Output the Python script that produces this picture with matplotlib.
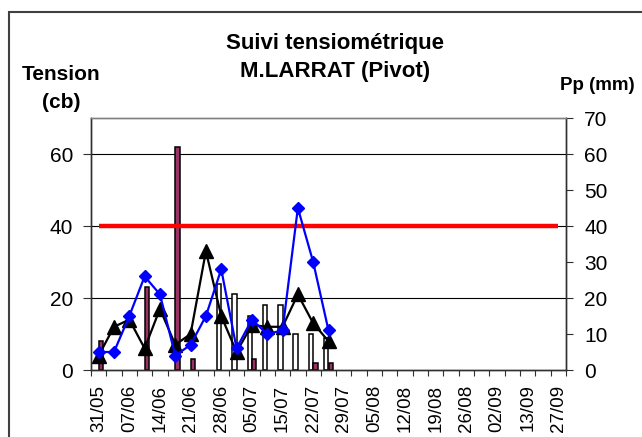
import matplotlib
matplotlib.use("Agg")
import matplotlib.pyplot as plt
import numpy as np
from matplotlib.patches import Rectangle

plt.rcParams['font.family'] = ['Liberation Sans', 'DejaVu Sans']

# ---- data ----
date_labels = ["31/05", "07/06", "14/06", "21/06", "28/06", "05/07", "15/07", "22/07",
               "29/07", "05/08", "12/08", "19/08", "26/08", "02/09", "13/09", "27/09"]
n_categories = 31
tension_a = [5, 5, 15, 26, 21, 4, 7, 15, 28, 6, 14, 10, 11, 45, 30, 11]      # blue diamonds
tension_b = [4, 12, 14, 6, 17, 7, 10, 33, 15, 5, 12.5, 12, 12, 21, 13, 8]    # black triangles
irrigation = [0, 0, 0, 0, 0, 0, 0, 0, 24, 21, 15, 18, 18, 10, 10, 9]        # white bars
pluie = [8, 0, 0, 23, 0, 62, 3, 0, 0, 0, 3, 0, 0, 0, 2, 2]                   # maroon bars
seuil = [40] * n_categories                                                 # red threshold
left_ticks = [0, 20, 40, 60]
right_ticks = [0, 10, 20, 30, 40, 50, 60, 70]

W, H = 642, 437
fig = plt.figure(figsize=(W / 100, H / 100), dpi=100)
fig.patch.set_facecolor('white')

ax2 = fig.add_axes([91 / W, 67 / H, 475 / W, 252 / H])
ax = ax2.twinx()
ax2.yaxis.tick_right()
ax.yaxis.tick_left()
ax.yaxis.set_label_position('left')
ax.set_zorder(ax2.get_zorder() + 1)
ax.patch.set_visible(False)

xs = np.arange(len(tension_a))
bw = 0.286

# gridlines (behind bars)
for v in left_ticks[1:]:
    ax2.axhline(v, color='black', lw=0.8, zorder=0.5)

irr = np.array(irrigation, dtype=float)
plu = np.array(pluie, dtype=float)
mi = irr > 0
mp = plu > 0
ax2.bar(xs[mi] - bw / 2, irr[mi], width=bw, color='white', edgecolor='black', lw=1.1, zorder=2)
ax2.bar(xs[mp] + bw / 2, plu[mp], width=bw, color='#993366', edgecolor='black', lw=1.1, zorder=2)

ax.plot(np.arange(n_categories), seuil, color='#ff0000', lw=3.2, zorder=3, solid_capstyle='butt')
ax.plot(xs, tension_b, color='black', lw=1.6, marker='^', ms=9.4, mfc='black', mec='black', zorder=4)
ax.plot(xs, tension_a, color='#0000ff', lw=1.6, marker='D', ms=6.6, mfc='#0000ff', mec='#0000ff', zorder=5)

for a in (ax, ax2):
    a.set_xlim(-0.5, n_categories - 0.5)
    a.set_ylim(0, 70)

ax.set_yticks(left_ticks)
ax2.set_yticks(right_ticks)

# x ticks at category boundaries, labels every other category
ax2.set_xticks(np.arange(n_categories + 1) - 0.5)
ax2.set_xticklabels([])
ax2.set_xticks(np.arange(0, n_categories, 2), minor=True)
ax2.set_xticklabels(date_labels, minor=True, rotation=90, fontsize=13.5)
ax2.tick_params(axis='x', which='major', direction='out', length=4.5, width=0.8, color='#303030')
ax2.tick_params(axis='x', which='minor', length=0, pad=10.5)
ax.tick_params(axis='x', which='both', bottom=False, labelbottom=False)

ax.tick_params(axis='y', direction='out', length=5.8, width=0.8, color='#303030', labelsize=15, pad=7)
ax2.tick_params(axis='y', direction='out', length=5, width=0.8, color='#303030', labelsize=15, pad=8)

for a in (ax, ax2):
    for s in a.spines.values():
        s.set_linewidth(1.0)
        s.set_color('#303030')
    a.spines['top'].set_color('#808080')

# texts
fig.text(335 / W, 1 - 43 / H, "Suivi tensiométrique", ha='center', va='center', fontsize=16, fontweight='bold')
fig.text(335 / W, 1 - 71 / H, "M.LARRAT (Pivot)", ha='center', va='center', fontsize=16, fontweight='bold')
fig.text(61 / W, 1 - 74 / H, "Tension", ha='center', va='center', fontsize=15, fontweight='bold')
fig.text(61 / W, 1 - 103 / H, "(cb)", ha='center', va='center', fontsize=15, fontweight='bold')
fig.text(597 / W, 1 - 85 / H, "Pp (mm)", ha='center', va='center', fontsize=13.5, fontweight='bold')

# chart border
fig.patches.append(Rectangle((9 / W, -0.1), 1.2, 1 - 12 / H + 0.1, transform=fig.transFigure,
                             fill=False, edgecolor='#404040', lw=1.5))

fig.savefig("out.png", dpi=100)
